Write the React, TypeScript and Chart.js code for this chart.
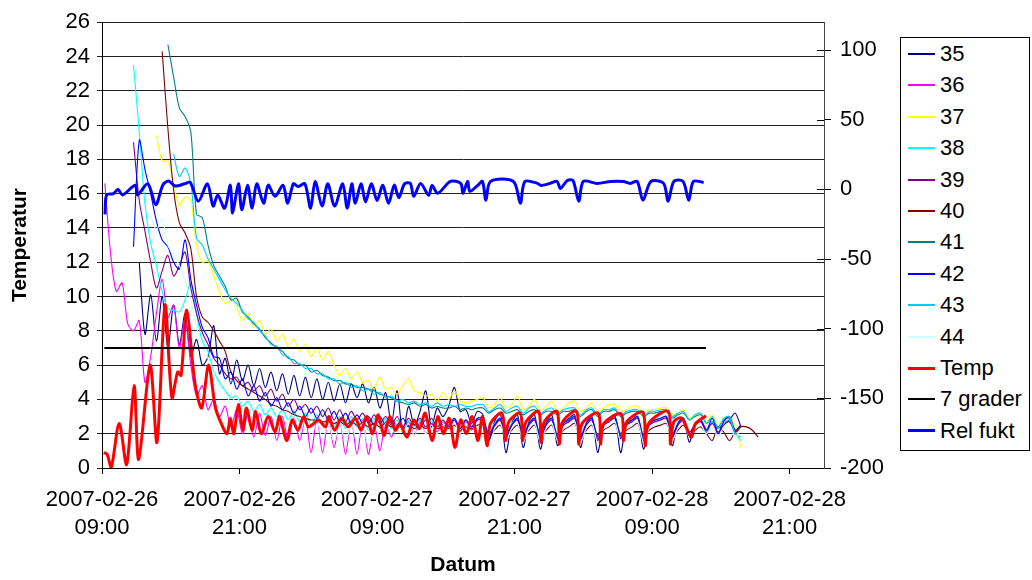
import React, { useEffect, useRef } from "react";
import { Chart, registerables } from "chart.js";

Chart.register(...registerables);

const FONT = "'Liberation Sans', Arial, Helvetica, sans-serif";

// ---- x axis (hours after 2007-02-26 09:00) ----
const xTickHours = [0, 12, 24, 36, 48, 60];
const xTickLabels = [
  ["2007-02-26", "09:00"],
  ["2007-02-26", "21:00"],
  ["2007-02-27", "09:00"],
  ["2007-02-27", "21:00"],
  ["2007-02-28", "09:00"],
  ["2007-02-28", "21:00"],
];

// ---- sensor logger samples (every 30 min) ----
const sensorHours = [
  0.25, 0.75, 1.25, 1.75, 2.25, 2.75, 3.25, 3.75, 4.25, 4.75,
  5.25, 5.75, 6.25, 6.75, 7.25, 7.75, 8.25, 8.75, 9.25, 9.75,
  10.25, 10.75, 11.25, 11.75, 12.25, 12.75, 13.25, 13.75, 14.25, 14.75,
  15.25, 15.75, 16.25, 16.75, 17.25, 17.75, 18.25, 18.75, 19.25, 19.75,
  20.25, 20.75, 21.25, 21.75, 22.25, 22.75, 23.25, 23.75, 24.25, 24.75,
  25.25, 25.75, 26.25, 26.75, 27.25, 27.75, 28.25, 28.75, 29.25, 29.75,
  30.25, 30.75, 31.25, 31.75, 32.25, 32.75, 33.25, 33.75, 34.25, 34.75,
  35.25, 35.75, 36.25, 36.75, 37.25, 37.75, 38.25, 38.75, 39.25, 39.75,
  40.25, 40.75, 41.25, 41.75, 42.25, 42.75, 43.25, 43.75, 44.25, 44.75,
  45.25, 45.75, 46.25, 46.75, 47.25, 47.75, 48.25, 48.75, 49.25, 49.75,
  50.25, 50.75, 51.25, 51.75, 52.25, 52.75, 53.25, 53.75, 54.25, 54.75,
  55.25, 55.75, 56.25, 56.75, 57.25,
];

const s35 = [
  null, null, null, null, null, null, 12.0, 7.8, 10.1, 7.4,
  10.0, 7.0, 9.5, 7.2, 9.0, 6.5, 7.5, 6.0, 6.5, 8.3,
  5.5, 6.4, 4.9, 6.3, 5.1, 6.0, 4.8, 5.8, 4.7, 5.6,
  4.5, 5.5, 4.3, 5.4, 4.2, 5.3, 4.1, 5.2, 4.0, 5.0,
  3.9, 4.9, 3.8, 4.9, 4.1, 4.9, 3.8, 4.7, 3.5, 4.4,
  2.6, 4.5, 2.0, 3.6, 2.5, 3.3, 4.5, 2.4, 3.5, 3.0,
  3.6, 4.7, 3.3, 3.4, 2.6, 3.3, 3.1, 1.6, 2.7, 3.2,
  0.9, 2.6, 3.1, 1.2, 2.7, 3.1, 1.1, 2.6, 3.1, 1.3,
  2.6, 2.9, 3.1, 1.2, 2.6, 3.0, 0.9, 2.6, 2.9, 3.1,
  0.9, 2.5, 2.8, 3.0, 1.1, 2.6, 2.8, 2.9, 3.0, 1.3,
  2.6, 2.9, 1.5, 2.6, 2.8, 2.0, 2.7, 2.3, 2.6, 2.8,
  3.2, 2.4, null, null, null,
];
const s36 = [
  16.6, 12.5, 10.3, 10.8, 8.4, 8.0, 8.6, 5.0, 6.5, 9.0,
  11.0, 8.8, 9.5, 7.0, 8.7, 6.0, 4.2, 4.8, 3.4, 4.0,
  3.0, 3.6, 2.4, 3.4, 2.0, 3.2, 1.8, 3.2, 1.9, 3.0,
  1.6, 3.0, 1.6, 3.0, 1.6, 2.9, 0.9, 2.9, 0.9, 2.9,
  1.2, 2.8, 0.8, 2.8, 0.8, 2.8, 0.8, 2.6, 1.0, 2.7,
  1.8, 2.6, 2.2, 2.7, 1.9, 2.7, 2.0, 2.6, 2.1, 2.7,
  2.3, 2.8, 2.1, 2.7, 2.2, 2.8, 2.8, 1.7, 2.4, 2.8,
  1.8, 2.5, 2.8, 1.8, 2.5, 2.8, 1.7, 2.5, 2.8, 1.7,
  2.5, 2.7, 2.9, 1.7, 2.5, 2.8, 1.7, 2.5, 2.7, 2.9,
  1.8, 2.5, 2.7, 2.9, 1.7, 2.5, 2.7, 2.8, 2.9, 1.8,
  2.5, 2.8, 1.9, 2.5, 2.7, 2.1, 2.6, 2.0, 2.5, 2.7,
  2.0, 2.5, null, null, null,
];
const s37 = [
  null, null, null, null, null, null, null, null, null, 19.4,
  17.9, 17.9, 16.6, 15.3, 15.8, 15.6, 13.0, 12.0, 12.1, 11.2,
  10.3, 9.6, 9.8, 9.4, 8.6, 9.0, 8.2, 8.6, 7.8, 8.1,
  7.4, 7.8, 7.1, 7.5, 6.8, 7.2, 6.5, 7.0, 6.3, 6.8,
  6.0, 5.4, 5.8, 5.2, 5.6, 5.0, 5.1, 4.6, 5.3, 4.6,
  4.7, 4.3, 4.8, 5.2, 4.5, 4.4, 4.2, 4.3, 3.9, 4.4,
  4.0, 4.5, 3.9, 3.8, 3.9, 4.0, 4.1, 3.5, 3.7, 4.1,
  3.5, 3.7, 4.2, 3.4, 3.6, 4.0, 3.4, 3.6, 3.9, 3.3,
  3.5, 3.8, 3.9, 3.3, 3.5, 3.8, 3.3, 3.5, 3.7, 3.7,
  3.3, 3.4, 3.6, 3.6, 3.2, 3.4, 3.4, 3.5, 3.5, 3.1,
  3.2, 3.4, 2.9, 3.1, 3.2, 2.7, 3.1, 2.4, 2.9, 3.0,
  2.4, 1.2, null, null, null,
];
const s38 = [
  null, null, null, null, null, 23.5, 19.6, 15.4, 13.1, 11.8,
  10.3, 9.3, 9.2, 9.1, 9.8, 10.8, 9.0, 7.4, 6.8, 5.6,
  5.0, 4.5, 4.1, 4.2, 3.6, 3.9, 3.3, 3.7, 3.1, 3.5,
  3.0, 3.4, 2.8, 3.3, 2.7, 3.2, 2.5, 3.1, 2.5, 3.0,
  2.4, 3.0, 2.3, 3.0, 2.4, 2.9, 2.2, 2.9, 2.3, 2.9,
  2.3, 2.8, 2.2, 2.8, 2.4, 2.8, 2.3, 2.8, 2.3, 2.8,
  2.4, 2.9, 2.3, 2.8, 2.4, 2.9, 2.9, 2.0, 2.6, 2.9,
  2.0, 2.6, 2.9, 2.0, 2.6, 2.9, 1.9, 2.6, 2.9, 1.9,
  2.6, 2.8, 3.0, 1.9, 2.6, 2.9, 1.9, 2.6, 2.8, 3.0,
  2.0, 2.6, 2.8, 3.0, 1.9, 2.6, 2.8, 2.9, 3.0, 2.0,
  2.6, 2.9, 2.1, 2.6, 2.8, 2.3, 2.7, 2.1, 2.6, 2.8,
  2.0, 1.6, null, null, null,
];
const s39 = [
  null, null, null, null, null, 19.0, 15.6, 13.8, 12.0, 10.5,
  11.5, 12.4, 11.2, 11.8, 12.6, 10.5, 9.0, 7.9, 7.2, 6.4,
  6.0, 5.5, 5.2, 5.3, 4.8, 5.0, 4.5, 4.8, 4.2, 4.6,
  3.9, 4.3, 3.6, 4.0, 3.4, 3.7, 3.2, 3.6, 3.0, 3.5,
  2.8, 3.4, 2.7, 3.3, 2.8, 3.2, 2.6, 3.1, 2.6, 3.0,
  2.5, 3.0, 2.4, 2.9, 2.5, 2.9, 2.4, 2.9, 2.4, 2.8,
  2.4, 2.8, 2.3, 2.8, 2.4, 2.8, 2.8, 2.0, 2.5, 2.8,
  2.0, 2.5, 2.8, 2.0, 2.5, 2.8, 1.9, 2.5, 2.8, 1.9,
  2.5, 2.7, 2.9, 1.9, 2.5, 2.8, 1.9, 2.5, 2.7, 2.9,
  2.0, 2.5, 2.7, 2.9, 1.9, 2.5, 2.7, 2.8, 2.9, 2.0,
  2.5, 2.8, 2.1, 2.5, 2.7, 2.2, 2.6, 2.1, 2.5, 2.7,
  2.1, 2.4, null, null, null,
];
const s40 = [
  null, null, null, null, null, null, null, null, null, null,
  24.3, 19.8, 16.2, 14.3, 13.7, 12.8, 10.0, 8.8, 8.5, 8.0,
  7.4, 6.8, 5.6, 5.1, 4.8, 4.6, 4.4, 4.2, 4.0, 3.7,
  3.6, 3.4, 3.3, 3.1, 3.0, 2.9, 2.8, 2.8, 2.7, 2.7,
  2.6, 2.7, 2.5, 2.7, 2.5, 2.6, 2.4, 2.6, 2.4, 2.6,
  2.4, 2.5, 2.3, 2.5, 2.3, 2.5, 2.3, 2.5, 2.3, 2.4,
  2.3, 2.5, 2.2, 2.4, 2.3, 2.5, 2.5, 1.9, 2.2, 2.5,
  1.9, 2.2, 2.5, 1.9, 2.2, 2.5, 1.8, 2.2, 2.5, 1.8,
  2.2, 2.4, 2.6, 1.8, 2.2, 2.5, 1.8, 2.2, 2.4, 2.6,
  1.9, 2.2, 2.4, 2.6, 1.8, 2.2, 2.4, 2.5, 2.6, 1.9,
  2.2, 2.5, 1.9, 2.2, 2.4, 2.0, 1.6, 2.4, 2.1, 1.6,
  2.1, 2.4, 2.4, 2.2, 1.8,
];
const s41 = [
  null, null, null, null, null, null, null, null, null, null,
  null, 24.7, 22.8, 21.0, 20.5, 19.6, 14.8, 14.6, 13.0, 11.8,
  11.2, 10.6, 9.8, 9.9, 9.1, 8.8, 8.4, 8.1, 7.6, 7.3,
  7.0, 6.8, 6.4, 6.3, 6.0, 6.0, 5.6, 5.7, 5.4, 5.3,
  5.1, 5.1, 4.9, 4.9, 4.7, 4.7, 4.6, 4.5, 4.3, 4.2,
  4.1, 3.9, 3.8, 3.7, 3.8, 3.6, 3.7, 3.5, 3.6, 3.5,
  3.5, 3.6, 3.4, 3.5, 3.4, 3.5, 3.5, 3.2, 3.4, 3.5,
  3.2, 3.3, 3.4, 3.1, 3.3, 3.4, 3.1, 3.3, 3.3, 3.1,
  3.3, 3.3, 3.4, 3.0, 3.3, 3.4, 3.0, 3.3, 3.3, 3.4,
  3.0, 3.2, 3.3, 3.3, 3.0, 3.2, 3.2, 3.3, 3.3, 2.9,
  3.1, 3.2, 2.8, 3.0, 3.1, 2.6, 2.9, 2.4, 2.8, 2.9,
  2.2, 2.5, null, null, null,
];
const s42 = [
  null, null, null, null, null, 12.9, 19.1, 17.4, 16.0, 14.4,
  13.3, 12.9, 12.0, 11.6, 13.3, 11.0, 9.5, 8.2, 7.6, 6.5,
  6.4, 5.2, 5.6, 4.6, 5.2, 4.2, 4.8, 3.9, 4.4, 3.6,
  4.1, 3.4, 3.8, 3.2, 3.6, 3.0, 3.5, 2.9, 3.4, 2.8,
  3.3, 2.7, 3.2, 2.6, 3.1, 2.6, 3.0, 2.5, 3.0, 2.5,
  2.9, 2.4, 2.9, 2.4, 2.8, 2.4, 2.8, 2.4, 2.8, 2.5,
  2.5, 2.9, 2.3, 2.8, 2.4, 2.9, 2.9, 1.7, 2.5, 2.9,
  1.8, 2.5, 2.9, 1.8, 2.6, 2.9, 1.7, 2.6, 2.9, 1.7,
  2.6, 2.8, 3.0, 1.7, 2.6, 2.9, 1.6, 2.6, 2.8, 3.0,
  1.7, 2.6, 2.8, 3.0, 1.6, 2.6, 2.8, 2.9, 3.0, 1.8,
  2.6, 2.9, 1.9, 2.6, 2.8, 2.2, 2.9, 2.0, 2.7, 3.0,
  2.2, 2.5, null, null, null,
];
const s43 = [
  null, null, null, null, null, null, null, null, null, null,
  null, null, 18.3, 17.0, 17.5, 16.6, 13.4, 13.0, 12.2, 11.6,
  11.0, 10.4, 9.9, 9.6, 9.2, 8.7, 8.5, 8.0, 7.7, 7.2,
  7.1, 6.6, 6.5, 6.1, 6.1, 5.8, 5.8, 5.5, 5.5, 5.2,
  5.2, 4.9, 5.0, 4.7, 4.8, 4.5, 4.6, 4.3, 4.4, 4.1,
  4.2, 3.9, 4.0, 3.8, 3.9, 3.7, 3.8, 3.6, 3.8, 3.6,
  3.7, 3.6, 3.7, 3.6, 3.6, 3.7, 3.7, 3.3, 3.5, 3.7,
  3.3, 3.5, 3.6, 3.2, 3.5, 3.6, 3.2, 3.4, 3.5, 3.2,
  3.4, 3.5, 3.5, 3.1, 3.4, 3.5, 3.1, 3.4, 3.4, 3.5,
  3.1, 3.3, 3.4, 3.4, 3.0, 3.3, 3.3, 3.4, 3.4, 3.0,
  3.2, 3.3, 2.8, 3.1, 3.2, 2.6, 3.0, 2.3, 2.9, 3.0,
  2.0, 1.8, null, null, null,
];
const s44 = [
  null, null, null, null, null, null, null, null, 14.7, 13.9,
  14.5, 13.0, 12.4, 11.8, 10.9, 9.8, 8.2, 7.1, 6.4, 5.5,
  4.8, 4.4, 3.8, 4.2, 3.4, 3.8, 3.0, 3.6, 2.7, 3.4,
  2.5, 3.2, 2.2, 3.0, 2.0, 2.9, 1.8, 2.8, 1.6, 2.7,
  1.5, 2.7, 1.4, 2.6, 1.5, 2.6, 1.2, 2.5, 1.8, 2.6,
  2.0, 2.6, 2.1, 2.6, 1.9, 2.5, 2.0, 2.5, 2.0, 2.5,
  2.2, 2.6, 2.0, 2.5, 2.1, 2.6, 2.6, 0.9, 2.3, 2.6,
  1.6, 2.3, 2.6, 1.5, 2.3, 2.6, 1.5, 2.3, 2.6, 1.6,
  2.3, 2.5, 2.7, 1.5, 2.3, 2.6, 1.5, 2.3, 2.5, 2.7,
  1.6, 2.3, 2.5, 2.7, 1.5, 2.3, 2.5, 2.6, 2.7, 1.6,
  2.3, 2.6, 1.8, 2.3, 2.5, 2.0, 2.5, 1.8, 2.4, 2.6,
  1.8, 2.3, null, null, null,
];

const sensorNames = ["35", "36", "37", "38", "39", "40", "41", "42", "43", "44"];
const sensorColors = [
  "#000080", "#FF00FF", "#FFFF00", "#00FFFF", "#800080",
  "#800000", "#008080", "#0000FF", "#00CCFF", "#CCFFFF",
];
const sensorValues = [s35, s36, s37, s38, s39, s40, s41, s42, s43, s44];

// ---- Temp (outdoor) ----
const tempHours = [
  0.15, 0.45, 0.8, 1.5, 2.15, 2.8, 3.2, 4.2, 4.8, 5.5,
  6.1, 6.6, 6.9, 7.4, 8.1, 8.7, 9.3, 9.9, 10.4, 10.9,
  11.2, 11.5, 11.9, 12.3, 12.6, 13.1, 13.4, 13.9, 14.5, 15.1,
  15.5, 16.1, 16.6, 17.1, 17.6, 18.0, 18.5, 18.9, 19.5, 19.8,
  20.3, 20.9, 21.5, 22.1, 22.6, 23.1, 23.6, 24.1, 24.6, 25.1,
  25.6, 26.0, 26.6, 27.2, 27.7, 28.2, 28.8, 29.3, 29.8, 30.3,
  30.8, 31.3, 31.8, 32.3, 32.8, 33.2, 33.6, 33.9, 34.9, 35.2,
  35.5, 36.5, 36.7, 37.0, 38.1, 38.3, 38.6, 39.7, 39.9, 40.2,
  41.4, 41.6, 41.9, 43.3, 43.5, 43.8, 45.3, 45.5, 45.8, 47.2,
  47.4, 47.7, 49.4, 49.6, 49.9, 50.6, 51.4, 51.8, 52.7,
];
const tempValues = [
  0.9, 0.8, 0.0, 2.6, 0.2, 4.8, 0.5, 6.0, 1.5, 9.5,
  4.1, 5.6, 5.4, 9.2, 5.0, 3.5, 6.0, 3.5, 2.6, 2.0,
  2.9, 2.0, 3.7, 2.2, 3.5, 2.2, 3.3, 2.0, 3.0, 2.1,
  3.0, 1.6, 2.8, 2.2, 3.0, 2.4, 2.6, 2.8, 2.4, 3.0,
  2.2, 2.9, 2.4, 2.9, 2.2, 3.0, 2.0, 3.1, 1.9, 3.0,
  2.2, 2.6, 1.8, 2.8, 2.3, 3.2, 1.6, 3.0, 2.0, 2.9,
  1.2, 2.8, 2.0, 3.0, 1.6, 3.0, 1.3, 2.6, 3.2, 1.6,
  2.7, 3.2, 1.6, 2.7, 3.3, 1.5, 2.7, 3.3, 1.4, 2.7,
  3.3, 1.4, 2.6, 3.2, 1.4, 2.6, 3.15, 1.6, 2.7, 3.25,
  1.3, 2.6, 3.3, 1.4, 2.7, 2.9, 1.8, 2.6, 3.05,
];

// ---- 7 grader reference line ----
const gradHours = [0.2, 52.7];
const gradValues = [7, 7];

// ---- Rel fukt (right axis) ----
const relHours = [
  0.26, 0.4, 1.0, 1.4, 1.8, 2.9, 3.1, 4.0, 4.7, 5.3,
  5.8, 6.4, 7.2, 7.7, 8.4, 9.2, 9.7, 10.1, 10.7, 11.2,
  11.4, 11.9, 12.2, 12.7, 13.1, 13.5, 14.1, 14.5, 15.1, 15.8,
  16.2, 16.7, 17.1, 17.7, 18.2, 18.6, 19.2, 19.7, 20.3, 21.0,
  21.4, 21.8, 22.1, 22.6, 23.0, 23.5, 24.0, 24.5, 25.0, 25.5,
  25.9, 26.4, 26.9, 27.2, 27.8, 28.5, 28.8, 29.3, 30.4, 31.3,
  31.5, 31.9, 32.1, 32.8, 33.2, 33.5, 33.9, 35.9, 36.5, 36.9,
  38.0, 38.3, 39.1, 39.7, 40.0, 40.6, 41.1, 41.6, 42.0, 43.2,
  44.4, 45.5, 46.1, 46.7, 47.2, 47.9, 49.0, 49.4, 49.9, 50.7,
  51.2, 51.6, 52.5,
];
const relValues = [
  -18, -4, -3, 0, -4, 3, -4, 4, -11, 3,
  6, 2.4, 4, 5, -8.5, 4, -12, -4, -13.5, 3,
  -17, 4, -14.6, 3, -13.5, 4, -10, 3, -5, 3,
  -10, 4, 2, 4, -13.5, 5.7, -12, 4, -12, 4,
  -13.5, 4, -10, 4, -9, 4, -8, 3, -10, 3,
  -6, 4, 4.3, -5, 4.3, -4.3, 2.8, -2.8, 5.7, 4.3,
  -2.8, 5.7, -1.4, 3, 5.7, -7.8, 5.7, 5.7, -9.9, 5.7,
  4.3, 2.8, 4.3, 5.7, 0.7, 6.4, 6.4, -8.5, 5.7, 4.3,
  5.7, 5.7, 4.3, 5.7, -7.8, 5.7, 4.3, -8.5, 5.7, 5.7,
  -7.8, 5.7, 5,
];

const extraNames = ["Temp", "7 grader", "Rel fukt"];
const extraColors = ["#FF0000", "#000000", "#0000FF"];

const legendItems = [
  ...sensorNames.map((n, i) => ({ name: n, color: sensorColors[i], width: 2 })),
  { name: extraNames[0], color: extraColors[0], width: 3 },
  { name: extraNames[1], color: extraColors[1], width: 2 },
  { name: extraNames[2], color: extraColors[2], width: 3 },
];

function toPoints(xs: number[], ys: (number | null)[]) {
  const pts: { x: number; y: number }[] = [];
  xs.forEach((x, i) => {
    const y = ys[i];
    if (y !== null && y !== undefined) pts.push({ x, y });
  });
  return pts;
}

// small tick marks on the inner side of the right axis (Excel "cross" ticks)
const crossTicks = {
  id: "crossTicks",
  afterDraw(chart: any) {
    const s = chart.scales.y2;
    if (!s) return;
    const ctx = chart.ctx;
    ctx.save();
    ctx.strokeStyle = "#000";
    ctx.lineWidth = 1;
    s.ticks.forEach((t: any) => {
      const y = Math.round(s.getPixelForValue(t.value)) + 0.5;
      ctx.beginPath();
      ctx.moveTo(s.left - 7, y);
      ctx.lineTo(s.left, y);
      ctx.stroke();
    });
    ctx.restore();
  },
};

export default function App() {
  const ref = useRef<HTMLCanvasElement>(null);

  useEffect(() => {
    if (!ref.current) return;
    const datasets: any[] = [];
    sensorNames.forEach((name, k) => {
      datasets.push({
        label: name,
        data: toPoints(sensorHours, sensorValues[k]),
        borderColor: sensorColors[k],
        borderWidth: 1.1,
        yAxisID: "y",
        order: 13 - k,
        tension: 0.3,
      });
    });
    datasets.push({
      label: extraNames[0],
      data: toPoints(tempHours, tempValues),
      borderColor: extraColors[0],
      borderWidth: 3,
      yAxisID: "y",
      order: 3,
      tension: 0.3,
    });
    datasets.push({
      label: extraNames[1],
      data: toPoints(gradHours, gradValues),
      borderColor: extraColors[1],
      borderWidth: 2,
      yAxisID: "y",
      order: 2,
      tension: 0,
    });
    datasets.push({
      label: extraNames[2],
      data: toPoints(relHours, relValues),
      borderColor: extraColors[2],
      borderWidth: 3,
      yAxisID: "y2",
      order: 1,
      tension: 0.3,
    });

    const tickFont = { family: FONT, size: 22 };
    const titleFont = { family: FONT, size: 21, weight: "bold" as const };

    const chart = new Chart(ref.current, {
      type: "line",
      data: { datasets },
      plugins: [crossTicks],
      options: {
        animation: false,
        responsive: false,
        layout: { padding: { top: 16, left: 0, right: 128, bottom: 0 } },
        elements: { point: { radius: 0, hoverRadius: 0 }, line: { fill: false } },
        plugins: { legend: { display: false }, tooltip: { enabled: false } },
        scales: {
          x: {
            type: "linear",
            position: "bottom",
            min: 0,
            max: 63,
            afterBuildTicks: (s: any) => {
              s.ticks = xTickHours.map((v) => ({ value: v }));
            },
            afterFit: (s: any) => {
              s.height = 112;
            },
            ticks: {
              autoSkip: false,
              maxRotation: 0,
              minRotation: 0,
              padding: 12,
              color: "#000",
              font: { ...tickFont, lineHeight: 1.27 },
              callback: (v: any) => {
                const idx = xTickHours.indexOf(Number(v));
                return idx >= 0 ? xTickLabels[idx] : "";
              },
            },
            grid: {
              display: true,
              drawOnChartArea: false,
              drawTicks: true,
              tickLength: 6,
              color: "#000",
              lineWidth: 1,
            },
            border: { display: true, color: "#000", width: 1 },
            title: {
              display: true,
              text: "Datum",
              color: "#000",
              font: titleFont,
              padding: { top: 0, bottom: 2 },
            },
          },
          y: {
            type: "linear",
            position: "left",
            min: 0,
            max: 26,
            afterFit: (s: any) => {
              s.width = 102;
            },
            ticks: { stepSize: 2, padding: 7, color: "#000", font: tickFont },
            grid: { color: "#222", lineWidth: 1, drawTicks: true, tickLength: 5 },
            border: { display: true, color: "#000", width: 1 },
            title: {
              display: true,
              text: "Temperatur",
              color: "#000",
              font: titleFont,
              padding: { top: 8, bottom: 0 },
            },
          },
          y2: {
            type: "linear",
            position: "right",
            min: -200,
            max: 120,
            afterBuildTicks: (s: any) => {
              s.ticks = s.ticks.filter((t: any) => t.value <= 100);
            },
            afterFit: (s: any) => {
              s.width = 80;
            },
            ticks: { stepSize: 50, padding: 9, color: "#000", font: tickFont },
            grid: {
              drawOnChartArea: false,
              drawTicks: true,
              tickLength: 7,
              color: "#000",
              lineWidth: 1,
            },
            border: { display: true, color: "#444", width: 1 },
          },
        },
      },
    });
    return () => chart.destroy();
  }, []);

  return (
    <div
      style={{
        position: "absolute",
        left: 0,
        top: 0,
        width: 1032,
        height: 580,
        background: "#fff",
        overflow: "hidden",
      }}
    >
      <canvas ref={ref} width={1032} height={580} style={{ display: "block" }} />
      <div
        style={{
          position: "absolute",
          left: 900,
          top: 37,
          width: 130,
          height: 414,
          border: "1px solid #000",
          boxSizing: "border-box",
          background: "#fff",
          fontFamily: FONT,
          fontSize: 22,
          color: "#000",
        }}
      >
        {legendItems.map((it, k) => {
          const cy = 16 + k * 31.4;
          return (
            <div key={it.name}>
              <div
                style={{
                  position: "absolute",
                  left: 7,
                  width: 27,
                  top: cy - it.width / 2,
                  height: it.width,
                  background: it.color,
                }}
              />
              <div
                style={{
                  position: "absolute",
                  left: 39,
                  top: cy - 13,
                  lineHeight: "26px",
                  whiteSpace: "nowrap",
                }}
              >
                {it.name}
              </div>
            </div>
          );
        })}
      </div>
    </div>
  );
}
